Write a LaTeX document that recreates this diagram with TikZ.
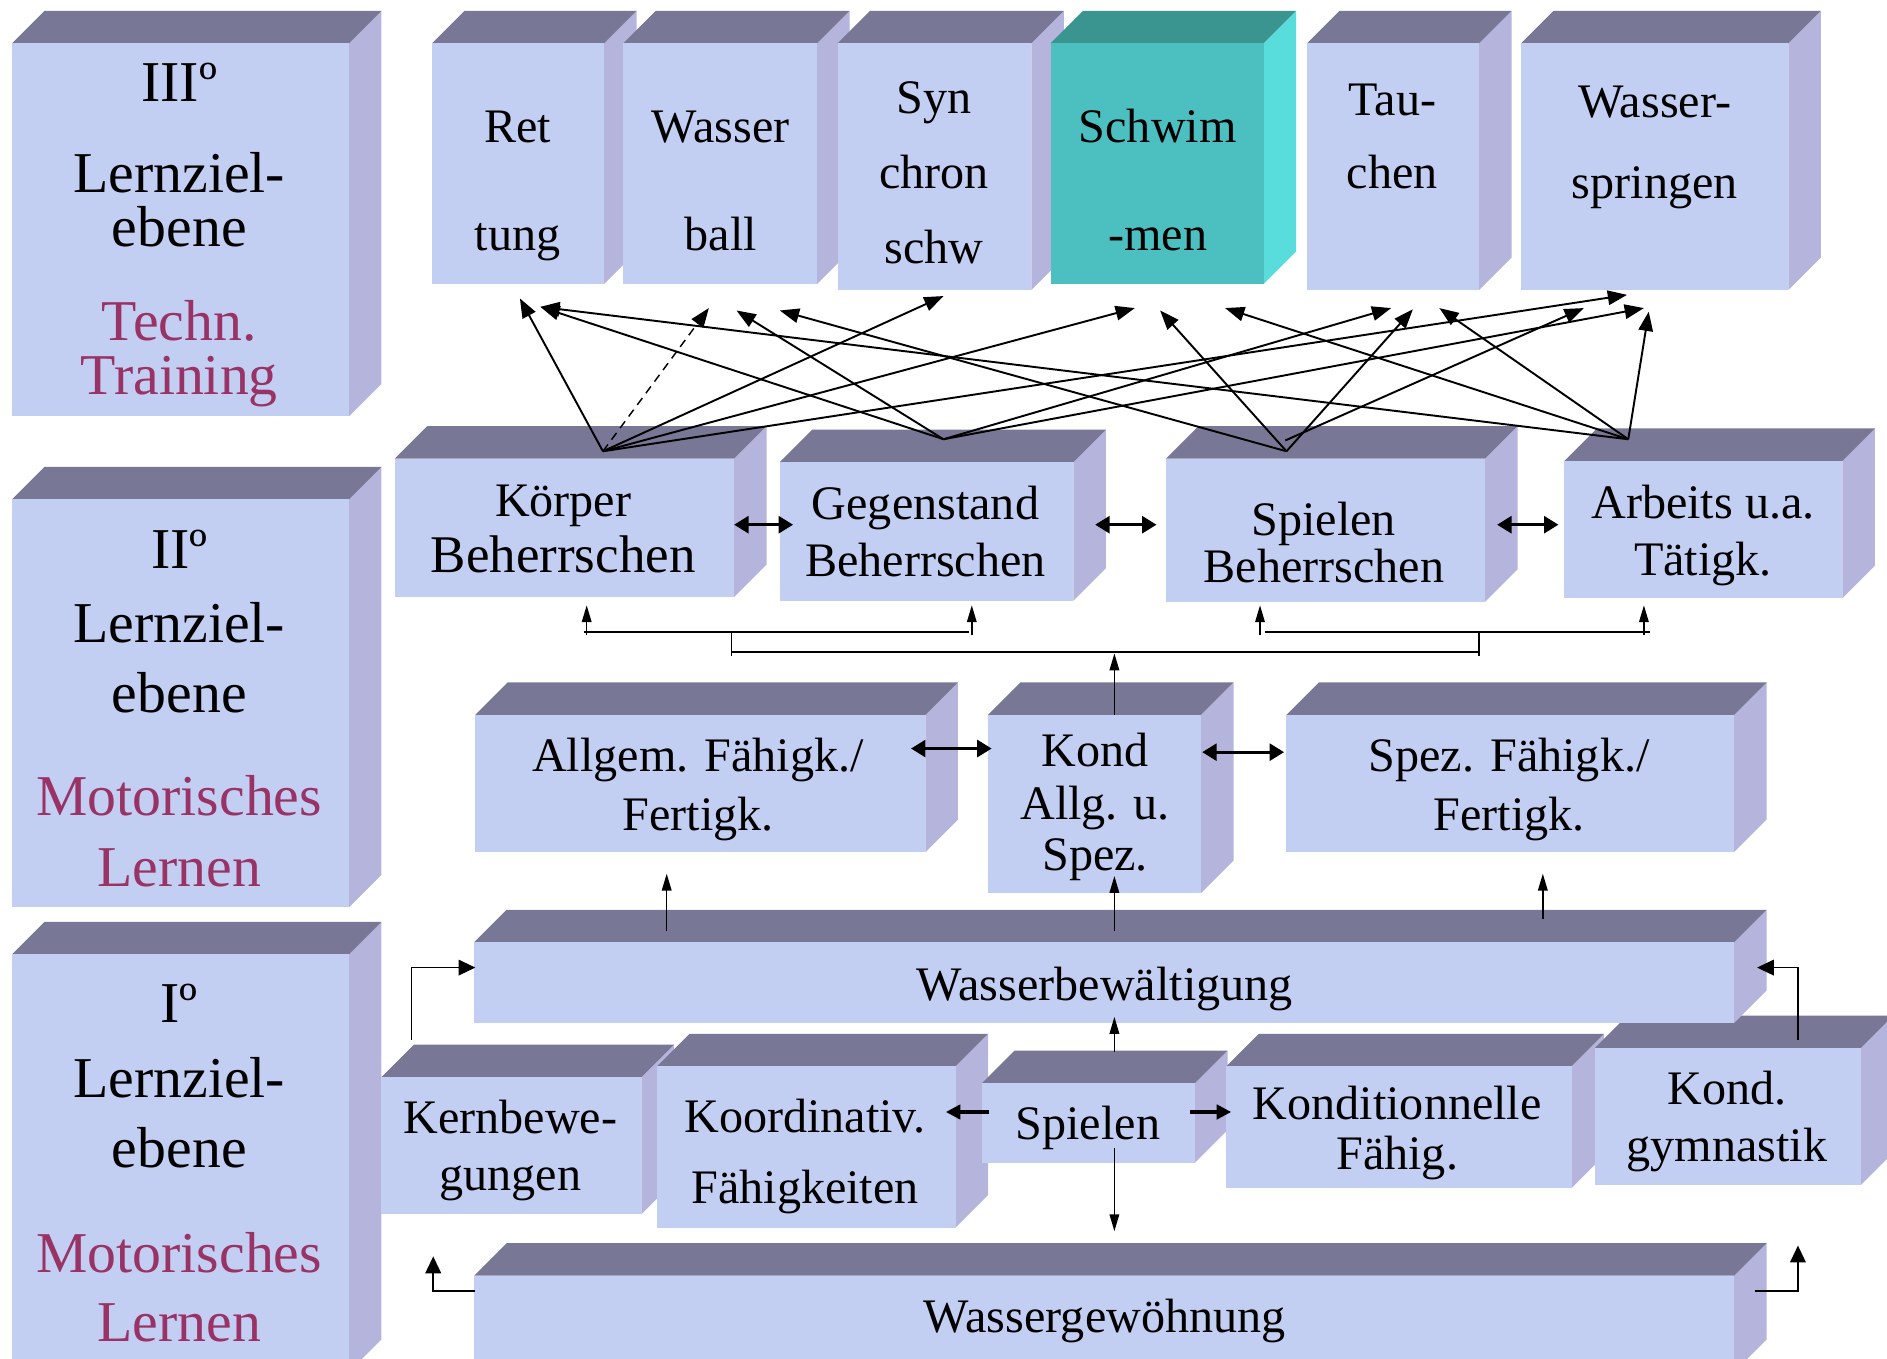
\documentclass[tikz,border=0pt]{standalone}
\usepackage{fontspec}
\setmainfont{Liberation Serif}
\usetikzlibrary{arrows.meta}
\definecolor{texc}{RGB}{194,206,242}
\definecolor{topc}{RGB}{120,120,150}
\definecolor{sidec}{RGB}{180,180,220}
\definecolor{tealf}{RGB}{76,192,192}
\definecolor{tealt}{RGB}{58,148,144}
\definecolor{teals}{RGB}{88,220,220}
\definecolor{maroonc}{RGB}{153,51,102}
% #1 name, #2 x1, #3 y1 (front top), #4 x2, #5 y2 (front bottom), #6 front, #7 top, #8 side
\newcommand\cubebox[8]{%
  \fill[#8] (#4,#3) -- (#4+27,#3-27) -- (#4+27,#5-27) -- (#4,#5) -- cycle;
  \fill[#7] (#2,#3) -- (#2+27,#3-27) -- (#4+27,#3-27) -- (#4,#3) -- cycle;
  \fill[#6] (#2,#3) rectangle (#4,#5);
  \coordinate (#1) at ({(#2+#4)/2},{(#3+#5)/2});
}
\begin{document}
\begin{tikzpicture}[x=1pt,y=-1pt,
  lbl/.style={font=\fontsize{40}{44}\selectfont, inner sep=0pt, anchor=base},
  lblb/.style={font=\fontsize{44}{48}\selectfont, inner sep=0pt, anchor=base},
  big/.style={font=\fontsize{48}{52}\selectfont, inner sep=0pt, anchor=base},
  red/.style={text=maroonc},
  net/.style={line width=1.6pt, -{Triangle[length=16pt,width=12pt]}},
  thinl/.style={line width=1.5pt},
  uparr/.style={line width=1.2pt, -{Triangle[length=14pt,width=8pt]}},
  dbl/.style={line width=2.6pt, {Triangle[length=12pt,width=14pt]}-{Triangle[length=12pt,width=14pt]}},
  harr/.style={line width=2.6pt, -{Triangle[length=12pt,width=12pt]}},
  elbow/.style={line width=1.4pt, -{Triangle[length=14pt,width=13pt]}},
]
\useasboundingbox (0,0) rectangle (1568,1129);
\clip (0,0) rectangle (1568,1129);

% ---------- left column ----------
\cubebox{L3}{10}{36}{290}{346}{texc}{topc}{sidec}
\cubebox{L2}{10}{415}{290}{754}{texc}{topc}{sidec}
\cubebox{L1}{10}{793}{290}{1140}{texc}{topc}{sidec}

% ---------- top row ----------
\cubebox{Ret}{359}{36}{502}{236}{texc}{topc}{sidec}
\cubebox{Wball}{518}{36}{679}{236}{texc}{topc}{sidec}
\cubebox{Syn}{696}{36}{857}{241}{texc}{topc}{sidec}
\cubebox{Sch}{873}{36}{1050}{236}{tealf}{tealt}{teals}
\cubebox{Tau}{1086}{36}{1229}{241}{texc}{topc}{sidec}
\cubebox{Wsp}{1264}{36}{1486}{241}{texc}{topc}{sidec}

% ---------- row 2 ----------
\cubebox{Kor}{328}{381}{610}{496}{texc}{topc}{sidec}
\cubebox{Geg}{648}{384}{892}{499}{texc}{topc}{sidec}
\cubebox{SpB}{969}{381}{1234}{500}{texc}{topc}{sidec}
\cubebox{Arb}{1300}{383}{1531}{497}{texc}{topc}{sidec}

% ---------- row 3 ----------
\cubebox{All}{395}{594}{769}{708}{texc}{topc}{sidec}
\cubebox{Kon}{821}{594}{998}{742}{texc}{topc}{sidec}
\cubebox{Spz}{1069}{594}{1441}{708}{texc}{topc}{sidec}

% ---------- row 4 ----------
\cubebox{Ker}{317}{895}{533}{1009}{texc}{topc}{sidec}
\cubebox{Koo}{546}{886}{794}{1020}{texc}{topc}{sidec}
\cubebox{Spi}{816}{900}{993}{966}{texc}{topc}{sidec}
\cubebox{Kdf}{1019}{886}{1306}{987}{texc}{topc}{sidec}
\cubebox{Kgy}{1325}{871}{1546}{985}{texc}{topc}{sidec}

% ---------- wide bars ----------
\cubebox{Wbew}{394}{783}{1441}{850}{texc}{topc}{sidec}
\cubebox{Wgew}{394}{1060}{1441}{1140}{texc}{topc}{sidec}

% ---------- texts: left column ----------
\node[big] (l3a) at (149,84) {IIIº};
\node[big] (l3b) at (149,160) {Lernziel-};
\node[big] (l3c) at (149,205) {ebene};
\node[big,red] (l3d) at (149,283) {Techn.};
\node[big,red] (l3e) at (149,328) {Training};

\node[big] (l2a) at (149,472) {IIº};
\node[big] (l2b) at (149,534) {Lernziel-};
\node[big] (l2c) at (149,592) {ebene};
\node[big,red] (l2d) at (149,678) {Motorisches};
\node[big,red] (l2e) at (149,737) {Lernen};

\node[big] (l1a) at (149,850) {Iº};
\node[big] (l1b) at (149,912) {Lernziel-};
\node[big] (l1c) at (149,970) {ebene};
\node[big,red] (l1d) at (149,1057) {Motorisches};
\node[big,red] (l1e) at (149,1115) {Lernen};

% ---------- texts: top row ----------
\node[lbl] (t1a) at (430,118) {Ret};
\node[lbl] (t1b) at (430,208) {tung};
\node[lbl] (t2a) at (599,118) {Wasser};
\node[lbl] (t2b) at (599,208) {ball};
\node[lbl] (t3a) at (776,94) {Syn};
\node[lbl] (t3b) at (776,157) {chron};
\node[lbl] (t3c) at (776,219) {schw};
\node[lbl] (t4a) at (962,118) {Schwim};
\node[lbl] (t4b) at (962,208) {-men};
\node[lbl] (t5a) at (1157,96) {Tau-};
\node[lbl] (t5b) at (1157,157) {chen};
\node[lbl] (t6a) at (1375,98) {Wasser-};
\node[lbl] (t6b) at (1375,165) {springen};

% ---------- texts: row 2 ----------
\node[lbl] (r2a) at (468,429) {Körper};
\node[lblb] (r2b) at (468,476) {Beherrschen};
\node[lbl] (r2c) at (769,432) {Gegenstand};
\node[lbl] (r2d) at (769,479) {Beherrschen};
\node[lbl] (r2e) at (1100,445) {Spielen};
\node[lbl] (r2f) at (1100,484) {Beherrschen};
\node[lbl] (r2g) at (1415,431) {Arbeits u.a.};
\node[lbl] (r2h) at (1415,478) {Tätigk.};

% ---------- texts: row 3 ----------
\node[lbl] (r3a) at (580,641) {Allgem. Fähigk./};
\node[lbl] (r3b) at (580,690) {Fertigk.};
\node[lbl] (r3c) at (910,637) {Kond};
\node[lbl] (r3d) at (910,681) {Allg. u.};
\node[lbl] (r3e) at (910,723) {Spez.};
\node[lbl] (r3f) at (1254,641) {Spez. Fähigk./};
\node[lbl] (r3g) at (1254,690) {Fertigk.};

% ---------- texts: bars and row 4 ----------
\node[lbl] (wb) at (918,831) {Wasserbewältigung};
\node[lbl] (r4a) at (424,942) {Kernbewe-};
\node[lbl] (r4b) at (424,989) {gungen};
\node[lbl] (r4c) at (669,941) {Koordinativ.};
\node[lbl] (r4d) at (669,1000) {Fähigkeiten};
\node[lbl] (r4e) at (904,947) {Spielen};
\node[lbl] (r4f) at (1161,930) {Konditionnelle};
\node[lbl] (r4g) at (1161,972) {Fähig.};
\node[lbl] (r4h) at (1435,918) {Kond.};
\node[lbl] (r4i) at (1435,965) {gymnastik};
\node[lbl] (wg) at (918,1107) {Wassergewöhnung};

% ---------- network coordinates ----------
\coordinate (K) at (501,375);
\coordinate (G) at (784,365);
\coordinate (S) at (1069,375);
\coordinate (S2) at (1068,366);
\coordinate (A) at (1353,365);
\coordinate (T1) at (432,248);
\coordinate (T2) at (449,255);
\coordinate (T3) at (589,256);
\coordinate (T4) at (612,258);
\coordinate (T5) at (648,258);
\coordinate (T6) at (784,246);
\coordinate (T7) at (943,256);
\coordinate (T8) at (964,258);
\coordinate (T9) at (1018,256);
\coordinate (T10) at (1156,256);
\coordinate (T11) at (1174,257);
\coordinate (T12) at (1196,256);
\coordinate (T13) at (1316,256);
\coordinate (T14) at (1352,245);
\coordinate (T15) at (1366,256);
\coordinate (T16) at (1370,259);

\draw[net] (K) -- (T1);
\draw[net,line width=1.2pt,dash pattern=on 7pt off 5pt] (K) -- (T3);
\draw[net] (K) -- (T6);
\draw[net] (K) -- (T7);
\draw[net] (K) -- (T14);
\draw[net] (G) -- (T2);
\draw[net] (G) -- (T4);
\draw[net] (G) -- (T10);
\draw[net] (G) -- (T15);
\draw[net] (S) -- (T5);
\draw[net] (S) -- (T8);
\draw[net] (S) -- (T11);
\draw[net] (S2) -- (T13);
\draw[net] (A) -- (T2);
\draw[net] (A) -- (T9);
\draw[net] (A) -- (T12);
\draw[net] (A) -- (T16);

% ---------- double arrows ----------
\coordinate (d1a) at (610,436); \coordinate (d1b) at (659,436);
\coordinate (d2a) at (910,436); \coordinate (d2b) at (961,436);
\coordinate (d3a) at (1244,436); \coordinate (d3b) at (1295,436);
\coordinate (d4a) at (757,622); \coordinate (d4b) at (824,622);
\coordinate (d5a) at (999,625); \coordinate (d5b) at (1067,625);
\draw[dbl] (d1a) -- (d1b);
\draw[dbl] (d2a) -- (d2b);
\draw[dbl] (d3a) -- (d3b);
\draw[dbl] (d4a) -- (d4b);
\draw[dbl] (d5a) -- (d5b);

% ---------- bracket ----------
\coordinate (b1) at (487.5,528); \coordinate (b1t) at (487.5,503);
\coordinate (b2) at (807.5,528); \coordinate (b2t) at (807.5,503);
\coordinate (b3) at (1047,528); \coordinate (b3t) at (1047,503);
\coordinate (b4) at (1366,528); \coordinate (b4t) at (1366,503);
\draw[uparr] (b1) -- (b1t);
\draw[uparr] (b2) -- (b2t);
\draw[uparr] (b3) -- (b3t);
\draw[uparr] (b4) -- (b4t);
\coordinate (h1a) at (485,525); \coordinate (h1b) at (805,525);
\coordinate (h2a) at (1051,525); \coordinate (h2b) at (1371,525);
\draw[thinl] (h1a) -- (h1b);
\draw[thinl] (h2a) -- (h2b);
\coordinate (v1a) at (608,525); \coordinate (v1b) at (608,545);
\coordinate (v2a) at (1229,525); \coordinate (v2b) at (1229,545);
\draw[line width=1pt] (v1a) -- (v1b);
\draw[line width=1pt] (v2a) -- (v2b);
\coordinate (hb1) at (608,541.5); \coordinate (hb2) at (1229,541.5);
\draw[thinl] (hb1) -- (hb2);
\coordinate (kt) at (926,594); \coordinate (ktt) at (926,543);
\draw[uparr] (kt) -- (ktt);

% ---------- arrows from Wasserbewaeltigung ----------
\coordinate (w1) at (554,774); \coordinate (w1t) at (554,726);
\coordinate (w2) at (926,774); \coordinate (w2t) at (926,728);
\coordinate (w3) at (1282,764); \coordinate (w3t) at (1282,726);
\draw[uparr] (w1) -- (w1t);
\draw[uparr] (w2) -- (w2t);
\draw[uparr] (w3) -- (w3t);

% ---------- row 4 arrows ----------
\coordinate (s1) at (822,924); \coordinate (s1t) at (786,924);
\coordinate (s2) at (989,924); \coordinate (s2t) at (1023,924);
\coordinate (s3) at (926,874); \coordinate (s3t) at (926,845);
\coordinate (s4) at (926,954); \coordinate (s4t) at (926,1023);
\draw[harr] (s1) -- (s1t);
\draw[harr] (s2) -- (s2t);
\draw[uparr] (s3) -- (s3t);
\draw[uparr] (s4) -- (s4t);

\coordinate (e1) at (342,864); \coordinate (e1t) at (395,804);
\coordinate (e2) at (395,1073); \coordinate (e2t) at (360,1044);
\coordinate (e3) at (1494,864); \coordinate (e3t) at (1460,804);
\coordinate (e4) at (1458,1073); \coordinate (e4t) at (1494,1035);
\draw[elbow] (e1) |- (e1t);
\draw[elbow] (e2) -| (e2t);
\draw[elbow] (e3) |- (e3t);
\draw[elbow] (e4) -| (e4t);
\end{tikzpicture}
\end{document}
